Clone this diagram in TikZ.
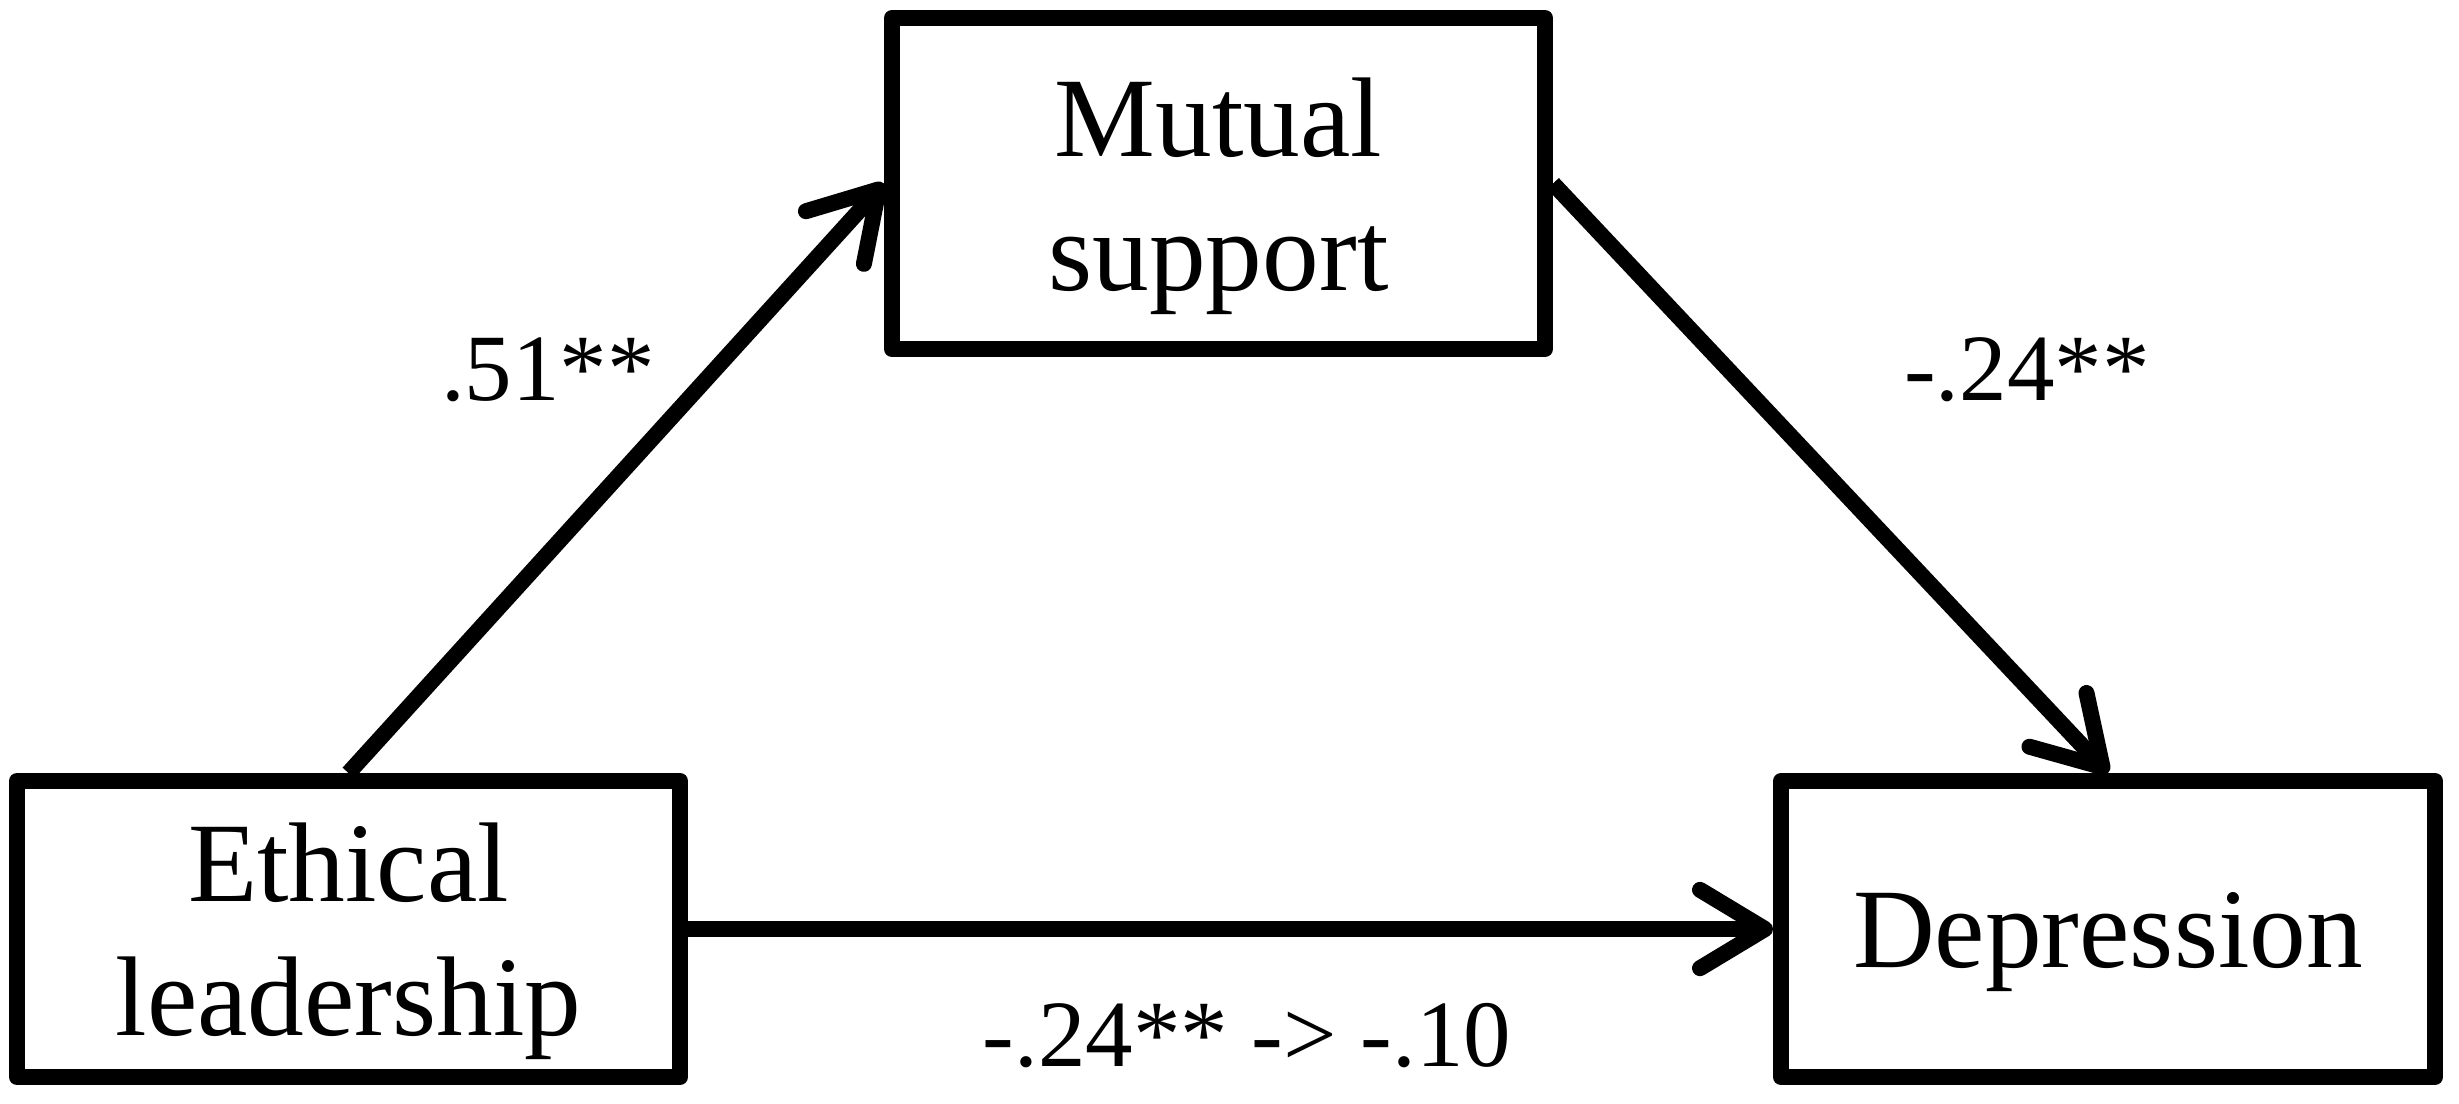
\documentclass[tikz,border=0pt]{standalone}
\usepackage{fontspec}
\setmainfont{Liberation Serif}
\usetikzlibrary{arrows.meta}
\begin{document}
\begin{tikzpicture}[x=0.3pt,y=-0.3pt,
  box/.style={draw=black, line width=4.8pt, line join=round, inner sep=0pt},
  boxtxt/.style={align=center, font=\fontsize{34}{40.2}\selectfont, inner sep=0pt},
  conn/.style={draw=black, line width=4.8pt,
    -{Straight Barb[length=19.5pt,width=23.5pt,round]}},
  lab/.style={font=\fontsize{28.5}{33}\selectfont, inner sep=0pt, anchor=base}]
\useasboundingbox (0,0) rectangle (2459,1103);
\node[box, minimum width=195.9pt, minimum height=99.3pt] (mut) at (1218.5,183.5) {};
\node[box, minimum width=198.9pt, minimum height=88.8pt] (eth) at (348.5,929) {};
\node[box, minimum width=196.2pt, minimum height=88.8pt] (dep) at (2108,929) {};
\node[boxtxt] (mutt) at ([yshift=-3.8pt]mut.center) {Mutual\\support};
\node[boxtxt] (etht) at ([yshift=-3.8pt]eth.center) {Ethical\\leadership};
\node[boxtxt] (dept) at ([yshift=-3.8pt]dep.center) {Depression};
\draw[conn] (eth.north) -- (mut.west);
\draw[conn] (mut.east) -- (dep.north);
\draw[conn] (eth.east) -- (dep.west);
\node[lab] (l1) at (548,400) {.51**};
\node[lab] (l2) at (2027,400) {-.24**};
\node[lab] (l3) at (1247,1066) {-.24** -> -.10};
\end{tikzpicture}
\end{document}
